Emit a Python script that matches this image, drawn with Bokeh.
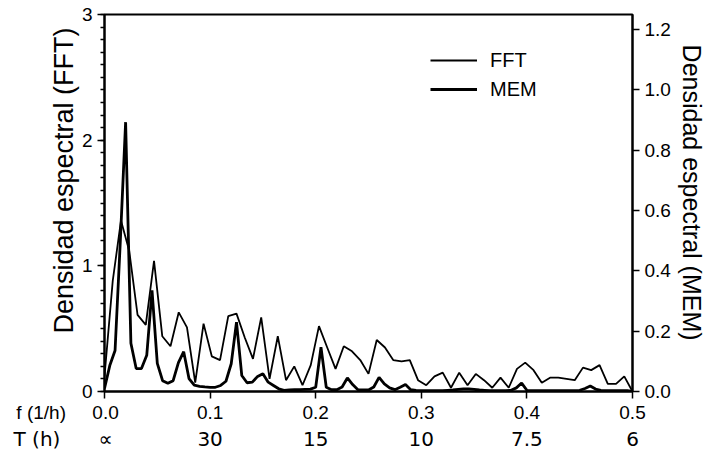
from bokeh.plotting import figure
from bokeh.models import (Range1d, LinearAxis, SingleIntervalTicker, FixedTicker,
                          NumeralTickFormatter, CustomJSTickFormatter, Legend,
                          LegendItem)
from bokeh.embed import file_html
from bokeh.resources import INLINE

# ---------------- data ----------------
fft_freq = [0.0, 0.0078, 0.0156, 0.0234, 0.0313, 0.0391, 0.0469, 0.0547, 0.0625, 0.0703,
            0.0781, 0.0859, 0.0938, 0.1016, 0.1094, 0.1172, 0.125, 0.1328, 0.1406, 0.1484,
            0.1563, 0.1641, 0.1719, 0.1797, 0.1875, 0.1953, 0.2031, 0.2109, 0.2188, 0.2266,
            0.2344, 0.2422, 0.25, 0.2578, 0.2656, 0.2734, 0.2813, 0.2891, 0.2969, 0.3047,
            0.3125, 0.3203, 0.3281, 0.3359, 0.3438, 0.3516, 0.3594, 0.3672, 0.375, 0.3828,
            0.3906, 0.3984, 0.4063, 0.4141, 0.4219, 0.4297, 0.4375, 0.4453, 0.4531, 0.4609,
            0.4688, 0.4766, 0.4844, 0.4922, 0.5]
fft_density = [0.12, 0.88, 1.36, 1.12, 0.61, 0.53, 1.04, 0.44, 0.36, 0.63,
               0.51, 0.07, 0.54, 0.28, 0.25, 0.60, 0.62, 0.43, 0.26, 0.59,
               0.10, 0.44, 0.09, 0.20, 0.05, 0.21, 0.52, 0.35, 0.18, 0.36,
               0.32, 0.25, 0.14, 0.41, 0.35, 0.25, 0.24, 0.25, 0.09, 0.05,
               0.12, 0.15, 0.03, 0.15, 0.05, 0.14, 0.09, 0.03, 0.11, 0.03,
               0.18, 0.23, 0.17, 0.07, 0.11, 0.11, 0.10, 0.09, 0.19, 0.17,
               0.21, 0.06, 0.06, 0.12, 0.00]

mem_freq = [0.0, 0.005, 0.01, 0.015, 0.02, 0.025, 0.03, 0.035, 0.04, 0.045,
            0.05, 0.055, 0.06, 0.065, 0.07, 0.075, 0.08, 0.085, 0.09, 0.095,
            0.1, 0.105, 0.11, 0.115, 0.12, 0.125, 0.13, 0.135, 0.14, 0.145,
            0.15, 0.155, 0.16, 0.165, 0.17, 0.175, 0.18, 0.185, 0.19, 0.195,
            0.2, 0.205, 0.21, 0.215, 0.22, 0.225, 0.23, 0.235, 0.24, 0.245,
            0.25, 0.255, 0.26, 0.265, 0.27, 0.275, 0.28, 0.285, 0.29, 0.295,
            0.3, 0.305, 0.31, 0.315, 0.32, 0.325, 0.33, 0.335, 0.34, 0.345,
            0.35, 0.355, 0.36, 0.365, 0.37, 0.375, 0.38, 0.385, 0.39, 0.395,
            0.4, 0.405, 0.41, 0.415, 0.42, 0.425, 0.43, 0.435, 0.44, 0.445,
            0.45, 0.455, 0.46, 0.465, 0.47, 0.475, 0.48, 0.485, 0.49, 0.495,
            0.5]
mem_density = [0.01, 0.086, 0.136, 0.50, 0.893, 0.16, 0.076, 0.076, 0.12, 0.335,
               0.093, 0.036, 0.027, 0.036, 0.096, 0.132, 0.043, 0.021, 0.017, 0.015,
               0.014, 0.014, 0.02, 0.034, 0.092, 0.23, 0.053, 0.029, 0.031, 0.05,
               0.059, 0.031, 0.02, 0.009, 0.004, 0.005, 0.006, 0.006, 0.007, 0.008,
               0.014, 0.147, 0.014, 0.006, 0.006, 0.015, 0.045, 0.023, 0.006, 0.005,
               0.005, 0.015, 0.047, 0.025, 0.012, 0.006, 0.014, 0.023, 0.006, 0.004,
               0.003, 0.003, 0.003, 0.003, 0.003, 0.004, 0.005, 0.007, 0.009, 0.009,
               0.007, 0.005, 0.004, 0.003, 0.003, 0.003, 0.003, 0.004, 0.012, 0.028,
               0.004, 0.003, 0.003, 0.003, 0.003, 0.003, 0.003, 0.003, 0.003, 0.003,
               0.004, 0.01, 0.018, 0.008, 0.004, 0.003, 0.003, 0.003, 0.003, 0.003,
               0.0]

f_ticks = [0.0, 0.1, 0.2, 0.3, 0.4, 0.5]
f_labels = ["0.0", "0.1", "0.2", "0.3", "0.4", "0.5"]
period_labels = ["\u221d", "30", "15", "10", "7.5", "6"]
mem_ticks = [0.0, 0.2, 0.4, 0.6, 0.8, 1.0, 1.2]
row_labels = ["f (1/h)", "T (h)"]

FONT = "Liberation Sans"
NB = "\u00a0"

p = figure(width=708, height=455, output_backend="svg", toolbar_location=None,
           x_range=Range1d(0, 0.5), y_range=Range1d(0, 3),
           min_border_left=104, min_border_right=74, min_border_top=14,
           min_border_bottom=64, x_axis_type=None, y_axis_type=None)
p.xgrid.visible = False
p.ygrid.visible = False
p.outline_line_color = "black"
p.outline_line_width = 2
p.background_fill_color = "white"
p.border_fill_color = "white"
p.extra_y_ranges = {"mem": Range1d(0, 1.25)}

def style(ax, size="19px", font=FONT):
    ax.axis_line_color = "black"
    ax.axis_line_width = 2
    ax.major_tick_line_color = "black"
    ax.major_tick_line_width = 1.5
    ax.major_tick_in = 0
    ax.major_tick_out = 7
    ax.minor_tick_in = 0
    ax.major_label_text_font = font
    ax.major_label_text_font_size = size
    ax.major_label_text_color = "black"
    ax.axis_label_text_font = FONT
    ax.axis_label_text_font_style = "normal"
    ax.axis_label_text_color = "black"

# left axis
yl = LinearAxis(ticker=SingleIntervalTicker(interval=1, num_minor_ticks=10),
                formatter=NumeralTickFormatter(format="0"),
                axis_label=NB * 6 + "Densidad espectral (FFT)")
style(yl)
yl.minor_tick_out = 4
yl.minor_tick_line_color = "black"
yl.minor_tick_line_width = 1.5
yl.axis_label_text_font_size = "27px"
yl.axis_label_standoff = 0
p.add_layout(yl, "left")

# right axis
yr = LinearAxis(y_range_name="mem", ticker=FixedTicker(ticks=mem_ticks),
                formatter=NumeralTickFormatter(format="0.0"),
                axis_label="Densidad espectral (MEM)" + NB * 3)
style(yr)
yr.minor_tick_line_color = None
yr.axis_label_text_font_size = "25px"
yr.axis_label_standoff = 4
p.add_layout(yr, "right")

# Row formatter: the first tick label carries the row title on its left,
# balanced by non-breaking spaces on its right so the value stays centred on its tick.
ROW_CODE = """
    let best = 0;
    for (let i = 0; i < fvals.length; i++) {
        if (Math.abs(fvals[i] - tick) < Math.abs(fvals[best] - tick)) best = i;
    }
    if (best == 0) {
        return title + "\\u00a0".repeat(gap) + labs[0] + "\\u00a0".repeat(pad);
    }
    return labs[best];
"""

# bottom frequency axis
xb = LinearAxis(ticker=FixedTicker(ticks=f_ticks),
                formatter=CustomJSTickFormatter(
                    args=dict(fvals=f_ticks, labs=f_labels, title=row_labels[0], gap=5, pad=14),
                    code=ROW_CODE))
style(xb)
xb.minor_tick_line_color = None
xb.major_label_standoff = 3
p.add_layout(xb, "below")

# period axis
xt = LinearAxis(ticker=FixedTicker(ticks=f_ticks),
                formatter=CustomJSTickFormatter(
                    args=dict(fvals=f_ticks, labs=period_labels, title=row_labels[1], gap=6, pad=13),
                    code=ROW_CODE))
style(xt, size="20px", font="DejaVu Sans")
xt.axis_line_color = None
xt.major_tick_line_color = None
xt.minor_tick_line_color = None
xt.major_tick_out = 0
xt.major_label_standoff = 1
p.add_layout(xt, "below")

r_fft = p.line(fft_freq, fft_density, line_color="black", line_width=1.8)
r_mem = p.line(mem_freq, mem_density, line_color="black", line_width=2.8, y_range_name="mem")

legend = Legend(items=[LegendItem(label="FFT", renderers=[r_fft]),
                       LegendItem(label="MEM", renderers=[r_mem])],
                location=(326, 289), border_line_color=None, background_fill_alpha=0,
                glyph_width=47, glyph_height=26, label_height=26, spacing=3,
                padding=0, margin=0, label_standoff=13,
                label_text_font=FONT, label_text_font_size="20px",
                label_text_color="black")
p.add_layout(legend)

open("out.html", "w").write(file_html(p, INLINE))
